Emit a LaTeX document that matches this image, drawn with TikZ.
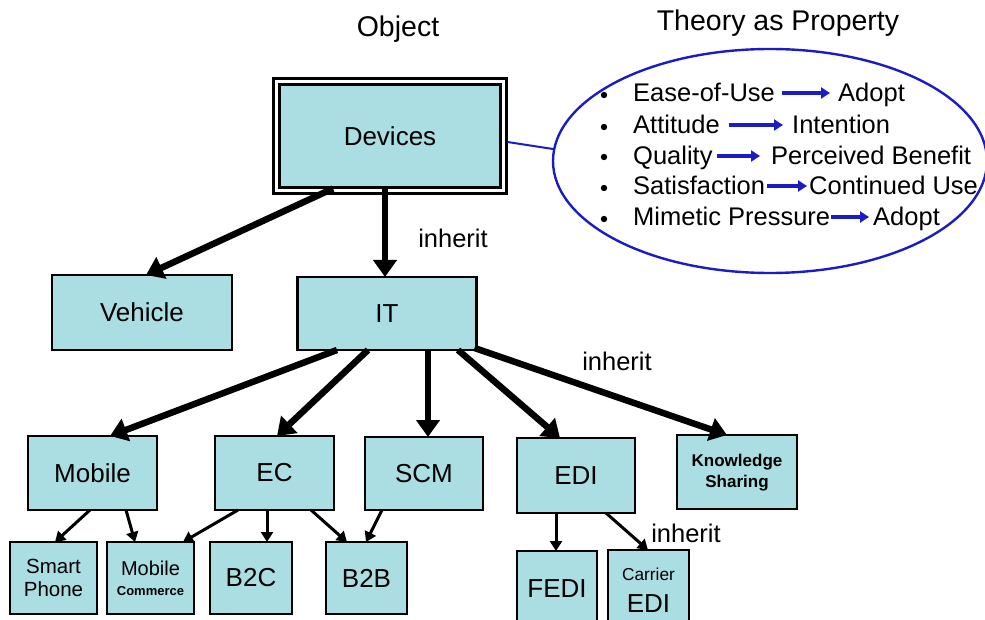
\documentclass[tikz,border=0pt]{standalone}
\usepackage{fontspec}
\setmainfont{Liberation Sans}
\usetikzlibrary{arrows.meta,calc}
\definecolor{boxfill}{RGB}{170,222,226}
\definecolor{propblue}{RGB}{28,28,196}
\tikzset{
  cls/.style={draw=black, fill=boxfill, line width=2.6pt, inner sep=0pt, outer sep=0pt, align=center},
  big/.style={font=\fontsize{26}{28}\selectfont},
  bigarrow/.style={line width=6.5pt, -{Triangle[length=17pt,width=23pt]}},
  smallarrow/.style={line width=3pt, -{Triangle[length=10pt,width=12pt]}},
  bluearrow/.style={propblue, line width=4pt, -{Triangle[length=9pt,width=11pt]}},
  lbl/.style={font=\fontsize{25.5}{28}\selectfont, inner sep=0pt},
  ptext/.style={font=\fontsize{25.5}{27}\selectfont, inner sep=0pt, anchor=base west},
}
\begin{document}
\begin{tikzpicture}[x=1pt,y=-1pt]
\useasboundingbox (0,0) rectangle (985,620);
\fill[white] (0,0) rectangle (985,620);

% headings
\node[lbl, font=\fontsize{28.5}{30}\selectfont] (objtitle) at (398,29) {Object};
\node[lbl, font=\fontsize{28.5}{30}\selectfont] (thtitle) at (778,23) {Theory as Property};

% top class with double border
\node[cls, big, double=white, double distance=3pt, line width=3pt,
      minimum width=227pt, minimum height=109pt]
      (devices) at (390,136) {Devices};

% second level
\node[cls, big, minimum width=180pt, minimum height=75pt] (vehicle) at (142,312.5) {Vehicle};
\node[cls, big, minimum width=179pt, minimum height=73pt] (it) at (387,313.5) {IT};

% third level
\node[cls, big, minimum width=129pt, minimum height=74pt] (mobile) at (92.5,473) {Mobile};
\node[cls, big, minimum width=119pt, minimum height=74pt] (ec) at (274.5,473) {EC};
\node[cls, big, minimum width=118pt, minimum height=73pt] (scm) at (424,473.5) {SCM};
\node[cls, big, minimum width=118pt, minimum height=75pt] (edi) at (576,475.5) {EDI};
\node[cls, minimum width=120pt, minimum height=74pt, font=\bfseries\fontsize{17}{21}\selectfont,
      text depth=3pt] (ks) at (737,472) {Knowledge\\Sharing};

% fourth level
\node[cls, minimum width=87pt, minimum height=72pt, font=\fontsize{20.5}{23}\selectfont] (phone) at (53.5,578) {Smart\\Phone};
\node[cls, minimum width=87pt, minimum height=72pt, font=\fontsize{13}{20}\selectfont] (mcom) at (150.5,578)
  {{\fontsize{20}{21}\selectfont Mobile}\\{\bfseries Commerce}};
\node[cls, big, minimum width=82pt, minimum height=72pt] (b2c) at (251,578) {B2C};
\node[cls, big, minimum width=81pt, minimum height=72pt] (b2b) at (366.5,578) {B2B};
\node[cls, big, minimum width=80pt, minimum height=80pt, text depth=4pt] (fedi) at (557,591) {FEDI};
\node[cls, minimum width=81pt, minimum height=80pt, font=\fontsize{26}{32}\selectfont] (cedi) at (648.5,590)
  {{\fontsize{17.3}{20}\selectfont Carrier}\\EDI};

% property ellipse and its link to the class
\draw[propblue, line width=2.4pt] (770,161) ellipse [x radius=217, y radius=112];
\coordinate (ellleft) at (553,149);
\draw[propblue, line width=2pt] ($(devices.east)+(4,6)$) -- (ellleft);

% property list
\foreach \y in {95,127,157,188,219}{
  \fill (604,\y) circle [radius=3.2];
}
\node[ptext] (p1a) at (633,102) {Ease-of-Use};
\node[ptext] (p1b) at (838,102) {Adopt};
\node[ptext] (p2a) at (633,134) {Attitude};
\node[ptext] (p2b) at (792,134) {Intention};
\node[ptext] (p3a) at (633,165) {Quality};
\node[ptext] (p3b) at (771,165) {Perceived Benefit};
\node[ptext] (p4a) at (633,195) {Satisfaction};
\node[ptext] (p4b) at (809,195) {Continued Use};
\node[ptext] (p5a) at (633,226) {Mimetic Pressure};
\node[ptext] (p5b) at (873,226) {Adopt};
\draw[bluearrow] ($(p1a.base east)+(7,-9)$) -- ($(p1b.base west)+(-8,-9)$);
\draw[bluearrow] ($(p2a.base east)+(9,-9)$) -- ($(p2b.base west)+(-9,-9)$);
\draw[bluearrow] ($(p3a.base east)+(4,-9)$) -- ($(p3b.base west)+(-11,-9)$);
\draw[bluearrow] ($(p4a.base east)+(2,-9)$) -- ($(p4b.base west)+(-2,-9)$);
\draw[bluearrow] ($(p5a.base east)+(1,-9)$) -- ($(p5b.base west)+(-4,-9)$);

% labels
\node[lbl] (inh1) at (453,238) {inherit};
\node[lbl] (inh2) at (617,361) {inherit};
\node[lbl] (inh3) at (686,533) {inherit};

% thick inheritance arrows
\draw[bigarrow] ($(devices.south -| 333,0)+(0,-2)$) -- (vehicle.north -| 146,0);
\draw[bigarrow] ($(devices.south -| 385,0)+(0,-2)$) -- (it.north -| 385,0);
\draw[bigarrow] (it.south -| 337,0) -- (mobile.north -| 110,0);
\draw[bigarrow] (it.south -| 368,0) -- (ec.north -| 277,0);
\draw[bigarrow] (it.south -| 428,0) -- (scm.north -| 428,0);
\draw[bigarrow] (it.south -| 458,0) -- (edi.north -| 560,0);
\draw[bigarrow] ($(it.south east)+(-2,-2)$) -- (ks.north -| 727,0);

% thin arrows
\draw[smallarrow] (mobile.south -| 90,0) -- (phone.north -| 55,0);
\draw[smallarrow] (mobile.south -| 126,0) -- (mcom.north -| 135,0);
\draw[smallarrow] (ec.south -| 238,0) -- (mcom.north -| 183,0);
\draw[smallarrow] (ec.south -| 267,0) -- (b2c.north -| 267,0);
\draw[smallarrow] (ec.south -| 311,0) -- (b2b.north -| 347,0);
\draw[smallarrow] (scm.south -| 382,0) -- (b2b.north -| 366,0);
\draw[smallarrow] (edi.south -| 556,0) -- (fedi.north -| 556,0);
\draw[smallarrow] (edi.south -| 606,0) -- (cedi.north -| 648,0);
\end{tikzpicture}
\end{document}
